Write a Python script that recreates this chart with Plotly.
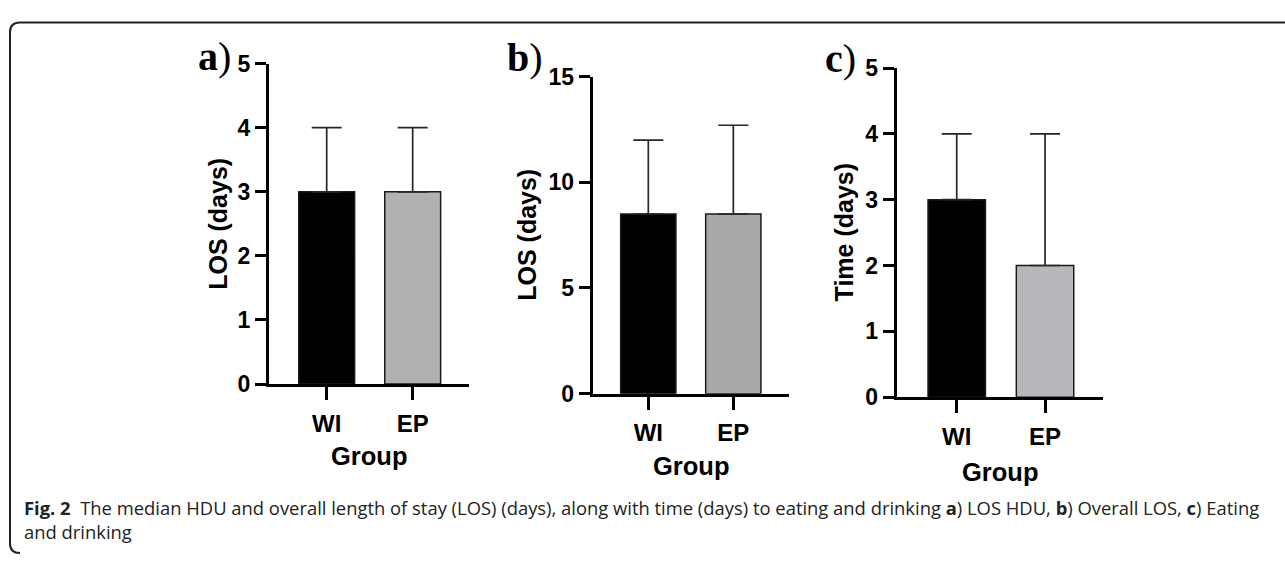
import plotly.graph_objects as go

# ---------------- data ----------------
categories = ["WI", "EP"]

los_hdu_median = [3, 3]
los_hdu_upper = [4, 4]

overall_los_median = [8.5, 8.5]
overall_los_upper = [12, 12.7]

eat_drink_median = [3, 2]
eat_drink_upper = [4, 4]

panel_letters = ["a", "b", "c"]
y_titles = ["LOS (days)", "LOS (days)", "Time (days)"]
x_title = "Group"
caption_line1 = ("<b>Fig. 2</b>\u00a0 The median HDU and overall length of stay (LOS) (days), "
                 "along with time (days) to eating and drinking <b>a</b>) LOS HDU, "
                 "<b>b</b>) Overall LOS, <b>c</b>) Eating")
caption_line2 = "and drinking"

# ---------------- layout helpers ----------------
W, H = 1285, 565


def px(x):
    return x / W


def py(y):
    return 1 - y / H


panels = [
    dict(med=los_hdu_median, up=los_hdu_upper, x0=269, x1=469, yt=53, yb=389,
         ymax=5, dtick=1, xr=[-0.671, 1.655], ep="#b1b1b3",
         lab=(214, 46), yti=(218, 221), xti=(369, 464)),
    dict(med=overall_los_median, up=overall_los_upper, x0=592.7, x1=789, yt=66.7, yb=399,
         ymax=15, dtick=5, xr=[-0.654, 1.655], ep="#a9a9a9",
         lab=(524.5, 46.5), yti=(527.5, 233), xti=(691, 475)),
    dict(med=eat_drink_median, up=eat_drink_upper, x0=896.7, x1=1103.3, yt=57.7, yb=402.7,
         ymax=5, dtick=1, xr=[-0.68, 1.66], ep="#b8b7bc",
         lab=(840, 48), yti=(844, 230), xti=(1000, 481.5)),
]

fig = go.Figure()
annotations = []
sans = "Liberation Sans"

for i, p in enumerate(panels):
    n = "" if i == 0 else str(i + 1)
    err = [u - m for u, m in zip(p["up"], p["med"])]
    fig.add_trace(go.Bar(
        x=categories, y=p["med"], width=0.65,
        marker=dict(color=["#000000", p["ep"]], line=dict(color="#1a1a1a", width=1.5)),
        error_y=dict(type="data", array=err, arrayminus=[0, 0], symmetric=False,
                     color="#262626", thickness=1.7, width=15),
        xaxis="x" + n, yaxis="y" + n, showlegend=False, hoverinfo="skip",
    ))
    fig.update_layout(**{
        "xaxis" + n: dict(
            domain=[px(p["x0"]), px(p["x1"])], anchor="y" + n, type="category",
            range=p["xr"], showline=True, linewidth=3, linecolor="black",
            ticks="outside", ticklen=13, tickwidth=3, tickcolor="black",
            ticklabelstandoff=3,
            showgrid=False, zeroline=False, fixedrange=True,
            tickfont=dict(family=sans, size=24, color="black", weight="bold"),
        ),
        "yaxis" + n: dict(
            domain=[py(p["yb"]), py(p["yt"])], anchor="x" + n,
            range=[0, p["ymax"]], dtick=p["dtick"], showline=True, linewidth=3,
            linecolor="black", ticks="outside", ticklen=11, tickwidth=3,
            tickcolor="black", showgrid=False, zeroline=False, fixedrange=True,
            tickfont=dict(family=sans, size=23, color="black", weight="bold"),
        ),
    })
    annotations.append(dict(
        text="<b>" + panel_letters[i] + "</b>)", x=px(p["lab"][0]), y=py(p["lab"][1]),
        xref="paper", yref="paper", xanchor="center", yanchor="middle", showarrow=False,
        font=dict(family="Liberation Serif", size=40, color="black"),
    ))
    annotations.append(dict(
        text=y_titles[i], x=px(p["yti"][0]), y=py(p["yti"][1]), textangle=-90,
        xref="paper", yref="paper", xanchor="center", yanchor="middle", showarrow=False,
        font=dict(family=sans, size=25, color="black", weight="bold"),
    ))
    annotations.append(dict(
        text=x_title, x=px(p["xti"][0]), y=py(p["xti"][1]),
        xref="paper", yref="paper", xanchor="center", yanchor="middle", showarrow=False,
        font=dict(family=sans, size=25.5, color="black", weight="bold"),
    ))

cap_font = dict(family="Open Sans", size=18.4, color="#222222")
annotations.append(dict(text=caption_line1, x=px(22), y=py(518), xref="paper", yref="paper",
                        xanchor="left", yanchor="middle", showarrow=False, font=cap_font))
annotations.append(dict(text=caption_line2, x=px(22), y=py(543.5), xref="paper", yref="paper",
                        xanchor="left", yanchor="middle", showarrow=False, font=cap_font))

frame_path = (f"M {px(1300)},{py(10)} L {px(20)},{py(10)} Q {px(10)},{py(10)} {px(10)},{py(20)} "
              f"L {px(10)},{py(556)} Q {px(10)},{py(566)} {px(20)},{py(566)}")

fig.update_layout(
    width=W, height=H, margin=dict(l=0, r=0, t=0, b=0),
    paper_bgcolor="white", plot_bgcolor="white",
    annotations=annotations,
    shapes=[dict(type="path", path=frame_path, xref="paper", yref="paper",
                 line=dict(color="#222222", width=2))],
)

fig.write_html("out.html", config={"displayModeBar": False},
               post_script="document.body.style.margin='0';")
